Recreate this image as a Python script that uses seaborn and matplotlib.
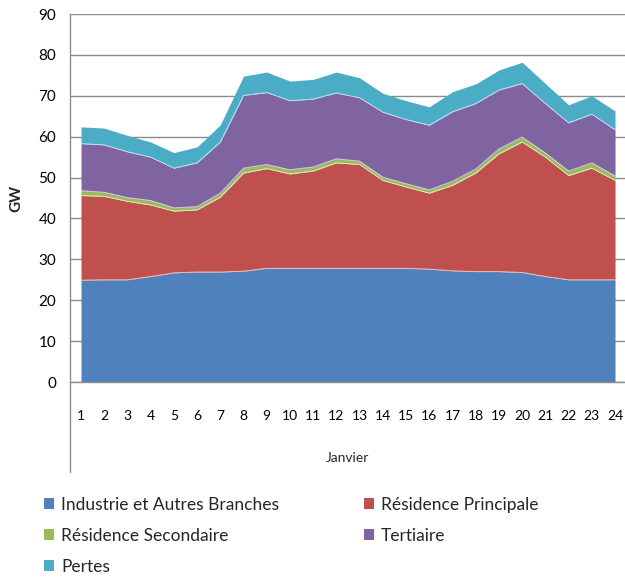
import numpy as np
import pandas as pd
import matplotlib
matplotlib.use("Agg")
import matplotlib.pyplot as plt
from matplotlib.lines import Line2D
from matplotlib.patches import Patch
import seaborn as sns

# Days of January
days = list(range(1, 25))

# Hourly-average demand by sector (GW)
industrie = [24.9, 25.0, 25.0, 25.8, 26.7, 26.9, 26.9, 27.1, 27.8, 27.8, 27.8, 27.8,
             27.8, 27.8, 27.8, 27.6, 27.2, 27.0, 27.0, 26.8, 25.8, 25.0, 25.0, 25.0]
residence_principale = [20.7, 20.4, 19.2, 17.5, 15.1, 15.2, 18.3, 24.0, 24.4, 23.1, 23.8, 25.8,
                        25.4, 21.5, 19.9, 18.6, 20.9, 24.1, 28.8, 31.9, 29.2, 25.5, 27.3, 24.3]
residence_secondaire = [1.2, 1.0, 0.9, 1.1, 0.8, 0.8, 1.0, 1.2, 1.0, 1.0, 1.0, 1.0,
                        0.8, 0.8, 0.8, 0.8, 1.0, 1.0, 1.2, 1.2, 1.0, 1.1, 1.3, 1.1]
tertiaire = [11.5, 11.6, 11.2, 10.6, 9.7, 10.7, 12.5, 17.8, 17.6, 16.9, 16.6, 16.1,
             15.5, 15.9, 15.7, 15.8, 17.0, 16.0, 14.4, 13.1, 12.1, 11.8, 11.9, 11.3]
pertes = [4.1, 4.1, 4.0, 3.7, 3.8, 3.9, 4.2, 4.7, 5.0, 4.8, 4.8, 5.1,
          4.9, 4.6, 4.6, 4.5, 4.9, 4.8, 4.9, 5.2, 4.9, 4.4, 4.5, 4.6]

series_names = ["Industrie et Autres Branches", "Résidence Principale",
                "Résidence Secondaire", "Tertiaire", "Pertes"]
colors = ["#4F81BD", "#C0504D", "#9BBB59", "#8064A2", "#4BACC6"]

df = pd.DataFrame({
    "Jour": days,
    series_names[0]: industrie,
    series_names[1]: residence_principale,
    series_names[2]: residence_secondaire,
    series_names[3]: tertiaire,
    series_names[4]: pertes,
})

sns.set_theme(style="white")
plt.rcParams["font.family"] = ["Lato", "DejaVu Sans"]

W, H = 625, 578
fig = plt.figure(figsize=(W / 100, H / 100), dpi=100)
ax = fig.add_axes([70 / W, 1 - 382 / H, 555 / W, 368 / H])

# Stacked areas
base = np.zeros(len(days))
for name, col in zip(series_names, colors):
    top = base + df[name].to_numpy()
    ax.fill_between(df["Jour"], base, top, color=col, linewidth=0, zorder=2)
    base = top

# Thin light separators along each cumulative edge
cum = df[series_names].cumsum(axis=1)
for name in series_names[:-1]:
    sns.lineplot(x=df["Jour"], y=cum[name], ax=ax, color="white", linewidth=0.6,
                 alpha=0.7, zorder=3, legend=False)

ax.set_xlim(0.526, 24.43)
ax.set_ylim(0, 90)
ax.set_yticks(range(0, 91, 10))
ax.set_xticks(days)
ax.yaxis.grid(True, color="#8c8c8c", linewidth=1.0, zorder=0)
ax.xaxis.grid(False)
ax.set_axisbelow(True)

for side in ["top", "right"]:
    ax.spines[side].set_visible(False)
for side in ["left", "bottom"]:
    ax.spines[side].set_color("#8c8c8c")
    ax.spines[side].set_linewidth(1.0)
ax.spines["left"].set_zorder(5)

ax.tick_params(axis="y", length=0, pad=10, labelsize=11, colors="black")
ax.tick_params(axis="x", length=0, pad=20, labelsize=10, colors="black")
ax.set_ylabel("GW", fontsize=11, fontweight="bold", labelpad=11)
ax.set_xlabel("Janvier", fontsize=10, labelpad=22)

# Category axis divider continuing below the plot
fig.add_artist(Line2D([70 / W, 70 / W], [1 - 382 / H, 1 - 472 / H],
                      transform=fig.transFigure, color="#8c8c8c", linewidth=1.0))

handles = [Patch(facecolor=c, edgecolor="none") for c in colors]
order = [0, 2, 4, 1, 3]
fig.legend([handles[i] for i in order], [series_names[i] for i in order],
           ncol=2, loc="upper left", bbox_to_anchor=(44 / W, 1 - 497 / H),
           frameon=False, fontsize=12.5, handlelength=0.6, handleheight=0.6,
           handletextpad=0.4, columnspacing=4.85, labelspacing=0.85,
           borderaxespad=0, borderpad=0)

fig.savefig("out.png", dpi=100)
